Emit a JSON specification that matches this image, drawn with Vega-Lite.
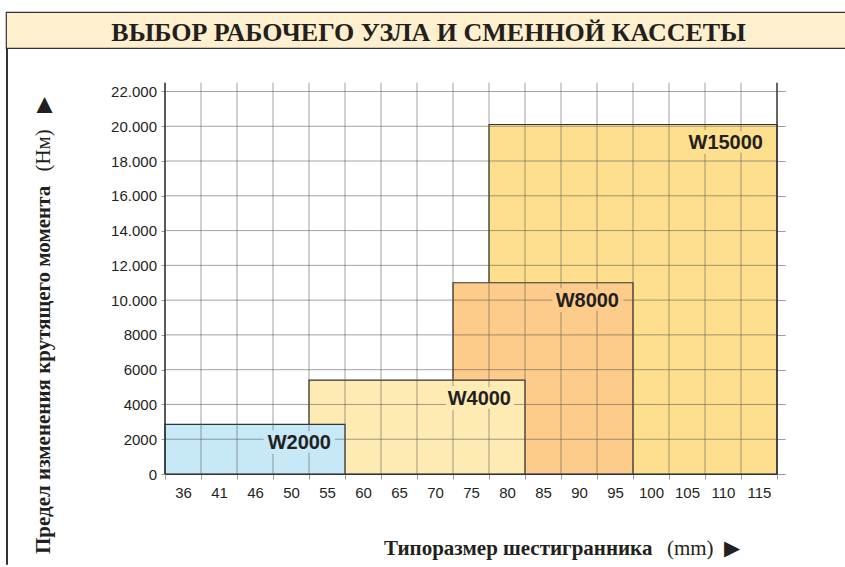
{
  "$schema": "https://vega.github.io/schema/vega-lite/v6.json",
  "background": "white",
  "padding": {"left": 5, "top": 11, "right": 0, "bottom": 0},
  "autosize": {"type": "pad"},
  "config": {"view": {"stroke": null}},
  "datasets": {
    "boxes": [
      {"unit": "W15000", "from": "80", "to": "115", "torque": 20100},
      {"unit": "W8000", "from": "75", "to": "95", "torque": 11000},
      {"unit": "W4000", "from": "55", "to": "80", "torque": 5400},
      {"unit": "W2000", "from": "36", "to": "55", "torque": 2850}
    ],
    "sizes": [
      {"size": "36"}, {"size": "41"}, {"size": "46"}, {"size": "50"}, {"size": "55"},
      {"size": "60"}, {"size": "65"}, {"size": "70"}, {"size": "75"}, {"size": "80"},
      {"size": "85"}, {"size": "90"}, {"size": "95"}, {"size": "100"}, {"size": "105"},
      {"size": "110"}, {"size": "115"}
    ],
    "levels": [
      {"level": 0}, {"level": 2000}, {"level": 4000}, {"level": 6000}, {"level": 8000},
      {"level": 10000}, {"level": 12000}, {"level": 14000}, {"level": 16000},
      {"level": 18000}, {"level": 20000}, {"level": 22000}
    ]
  },
  "spacing": 0,
  "bounds": "flush",
  "vconcat": [
    {
      "width": 839,
      "height": 36,
      "view": {"fill": "#FEF0CE", "stroke": "#333333", "strokeWidth": 1.2, "strokeDash": [839, 36, 875]},
      "data": {"values": [{"title": "ВЫБОР РАБОЧЕГО УЗЛА И СМЕННОЙ КАССЕТЫ"}]},
      "mark": {"type": "text", "font": "Liberation Serif", "fontWeight": "bold", "fontSize": 26, "color": "#231F20", "baseline": "middle", "dx": 3, "dy": 2.5},
      "encoding": {"text": {"field": "title"}}
    },
    {
      "spacing": 158,
      "bounds": "flush",
      "hconcat": [
        {
          "width": 1,
          "height": 516,
          "view": {"stroke": "#333333", "strokeWidth": 1},
          "data": {"values": [{"t": ""}]},
          "mark": {"type": "text"},
          "encoding": {"text": {"field": "t"}}
        },
        {
          "width": 612,
          "height": 426,
          "view": {"stroke": null},
          "resolve": {"axis": {"x": "independent", "y": "independent"}},
          "layer": [
            {
              "data": {"name": "boxes"},
              "mark": {"type": "rect", "stroke": "#333333", "strokeWidth": 1.2},
              "encoding": {
                "x": {
                  "field": "from", "type": "ordinal", "bandPosition": 0,
                  "scale": {"domain": ["36","41","46","50","55","60","65","70","75","80","85","90","95","100","105","110","115"], "paddingInner": 0, "paddingOuter": 0},
                  "axis": {
                    "orient": "bottom", "title": "Типоразмер шестигранника", "tickBand": "extent", "labelAngle": 0,
                    "labelFont": "Liberation Sans", "labelFontSize": 15, "labelColor": "#231F20", "labelPadding": 6,
                    "labelOverlap": false, "tickColor": "#999999", "tickSize": 5, "domain": true, "domainColor": "#333333",
                    "grid": false, "titleFont": "Liberation Serif", "titleFontWeight": "bold", "titleFontSize": 21,
                    "titleColor": "#231F20", "titleX": 218.5, "titleY": 80.5, "titleAlign": "left", "titleBaseline": "alphabetic"
                  }
                },
                "x2": {"field": "to", "bandPosition": 1},
                "y": {
                  "field": "torque", "type": "quantitative",
                  "scale": {"domain": [0, 24500], "nice": false},
                  "axis": {
                    "orient": "left", "title": "Предел изменения крутящего момента",
                    "values": [0, 2000, 4000, 6000, 8000, 10000, 12000, 14000, 16000, 18000, 20000, 22000],
                    "labelExpr": "datum.value >= 10000 ? replace(format(datum.value, ',.0f'), ',', '.') : format(datum.value, '.0f')",
                    "grid": false, "domain": false, "tickSize": 4, "tickColor": "#999999", "labelPadding": 4.5,
                    "labelFont": "Liberation Sans", "labelFontSize": 15, "labelColor": "#231F20",
                    "titleFont": "Liberation Serif", "titleFontWeight": "bold", "titleFontSize": 21, "titleColor": "#231F20",
                    "titleAngle": 270, "titleX": -115.5, "titleY": 505.5, "titleAlign": "left", "titleBaseline": "alphabetic"
                  }
                },
                "y2": {"datum": 0},
                "color": {
                  "field": "unit", "type": "nominal",
                  "scale": {"domain": ["W2000", "W4000", "W8000", "W15000"], "range": ["#C6E8F7", "#FEEBB3", "#FDCB8A", "#FDDF8E"]},
                  "legend": null
                }
              }
            },
            {
              "data": {"name": "levels"},
              "mark": {"type": "rule", "stroke": "#555555", "strokeOpacity": 0.55, "strokeWidth": 1},
              "encoding": {"y": {"field": "level", "type": "quantitative", "axis": null}}
            },
            {
              "data": {"name": "sizes"},
              "mark": {"type": "rule", "stroke": "#555555", "strokeOpacity": 0.55, "strokeWidth": 1},
              "encoding": {
                "x": {"field": "size", "type": "ordinal", "bandPosition": 0, "axis": null},
                "y": {"datum": 22500, "axis": null},
                "y2": {"datum": 0}
              }
            },
            {
              "data": {"name": "sizes"},
              "transform": [{"filter": "datum.size === '36'"}],
              "mark": {"type": "rule", "stroke": "#333333", "strokeWidth": 1.5},
              "encoding": {
                "x": {"field": "size", "type": "ordinal", "bandPosition": 0, "axis": null},
                "y": {"datum": 22500, "axis": null},
                "y2": {"datum": 0}
              }
            },
            {
              "data": {"name": "sizes"},
              "transform": [{"filter": "datum.size === '115'"}],
              "mark": {"type": "rule", "stroke": "#333333", "strokeWidth": 1.5},
              "encoding": {
                "x": {"field": "size", "type": "ordinal", "bandPosition": 1, "axis": null},
                "y": {"datum": 22500, "axis": null},
                "y2": {"datum": 0}
              }
            },
            {
              "data": {"name": "boxes"},
              "mark": {"type": "text", "align": "right", "baseline": "top", "dx": -14, "dy": 8.5, "font": "Liberation Sans", "fontWeight": "bold", "fontSize": 20, "strokeWidth": 10, "strokeJoin": "round"},
              "encoding": {
                "x": {"field": "to", "type": "ordinal", "bandPosition": 1, "axis": null},
                "y": {"field": "torque", "type": "quantitative", "axis": null},
                "text": {"field": "unit"},
                "color": {"field": "unit", "type": "nominal", "legend": null},
                "stroke": {
                  "field": "unit", "type": "nominal",
                  "scale": {"domain": ["W2000", "W4000", "W8000", "W15000"], "range": ["#C6E8F7", "#FEEBB3", "#FDCB8A", "#FDDF8E"]},
                  "legend": null
                }
              }
            },
            {
              "data": {"name": "boxes"},
              "mark": {"type": "text", "align": "right", "baseline": "top", "dx": -14, "dy": 8.5, "font": "Liberation Sans", "fontWeight": "bold", "fontSize": 20, "fill": "#231F20"},
              "encoding": {
                "x": {
                  "field": "to", "type": "ordinal", "bandPosition": 1,
                  "axis": {
                    "orient": "bottom", "title": "(mm)\u00a0\u00a0▶", "labels": false, "ticks": false, "domain": false, "grid": false,
                    "titleFont": "Liberation Serif", "titleFontWeight": "normal", "titleFontSize": 21, "titleColor": "#231F20",
                    "titleX": 538, "titleY": 80.5, "titleAlign": "center", "titleBaseline": "alphabetic"
                  }
                },
                "y": {
                  "field": "torque", "type": "quantitative",
                  "axis": {
                    "orient": "right", "title": "(Нм)\u00a0\u00a0\u00a0▶",
                    "values": [0, 2000, 4000, 6000, 8000, 10000, 12000, 14000, 16000, 18000, 20000, 22000],
                    "labels": false, "ticks": true, "tickSize": 8, "tickColor": "#999999", "domain": false, "grid": false,
                    "titleFont": "Liberation Serif", "titleFontWeight": "normal", "titleFontSize": 21, "titleColor": "#231F20",
                    "titleAngle": 270, "titleX": -727.5, "titleY": 86, "titleAlign": "center", "titleBaseline": "alphabetic"
                  }
                },
                "text": {"field": "unit"}
              }
            }
          ]
        }
      ]
    }
  ]
}
